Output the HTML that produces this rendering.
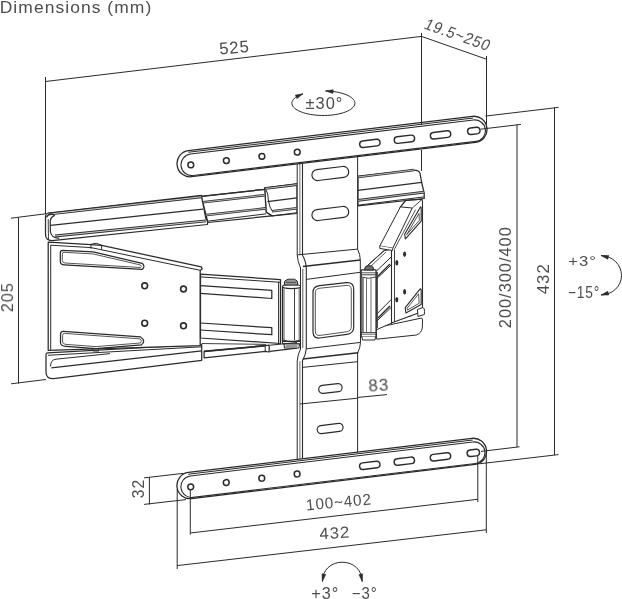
<!DOCTYPE html>
<html><head><meta charset="utf-8"><style>
html,body{margin:0;padding:0;background:#fff;overflow:hidden}
svg{display:block}
text{font-family:"Liberation Sans",sans-serif;fill:#4d4d4d}
.tx{will-change:transform}
</style></head><body>
<svg width="622" height="599" viewBox="0 0 622 599">
<rect width="622" height="599" fill="#fff"/>
<path d="M358,176.3 L413.4,170 Q419.5,170 420,173.4 L421.7,182.5 L424.2,193.4 L424.2,198.5 L358,205.9 Z" stroke="#2b2b2b" stroke-width="1.25" fill="#fff" stroke-linejoin="round" />
<path d="M358.0,177.0 L414.0,170.0" stroke="#2b2b2b" stroke-width="2.6" fill="none" stroke-linejoin="round" />
<path d="M358.0,177.0 L414.0,170.0" stroke="#fff" stroke-width="0.8" fill="none" opacity="0.85"/>
<path d="M358.0,190.3 L421.7,182.3" stroke="#2b2b2b" stroke-width="1.25" fill="none" stroke-linejoin="round" />
<path d="M358.0,200.4 L424.2,192.1" stroke="#2b2b2b" stroke-width="2.6" fill="none" stroke-linejoin="round" />
<path d="M358.0,200.4 L424.2,192.1" stroke="#fff" stroke-width="0.8" fill="none" opacity="0.85"/>
<path d="M358.0,205.2 L424.2,196.9" stroke="#2b2b2b" stroke-width="1.0" fill="none" stroke-linejoin="round" />
<path d="M264.7,187.9 L297,183.9 L297,213.5 L272,215.9 L266.1,212.2 Z" stroke="#2b2b2b" stroke-width="1.25" fill="#fff" stroke-linejoin="round" />
<path d="M265.6,188.5 L297.0,184.6" stroke="#2b2b2b" stroke-width="2.6" fill="none" stroke-linejoin="round" />
<path d="M265.6,188.5 L297.0,184.6" stroke="#fff" stroke-width="0.8" fill="none" opacity="0.85"/>
<path d="M267.4,201.6 L297.0,197.9" stroke="#2b2b2b" stroke-width="1.25" fill="none" stroke-linejoin="round" />
<path d="M272.0,211.3 L297.0,208.2" stroke="#2b2b2b" stroke-width="2.6" fill="none" stroke-linejoin="round" />
<path d="M272.0,211.3 L297.0,208.2" stroke="#fff" stroke-width="0.8" fill="none" opacity="0.85"/>
<path d="M272.0,215.9 L297.0,212.7" stroke="#2b2b2b" stroke-width="1.0" fill="none" stroke-linejoin="round" />
<path d="M266,190 Q268.3,193 268.3,200 Q269.5,208 272.5,211.5" stroke="#2b2b2b" stroke-width="1.0" fill="none" stroke-linejoin="round" />
<path d="M201.3,196.3 L264.7,189.3 L264.7,187.9 L266.1,212.2 L272,215.9 L207.5,222.5 L207.5,220.9 Z" stroke="#2b2b2b" stroke-width="1.25" fill="#fff" stroke-linejoin="round" />
<path d="M201.3,196.3 L264.7,189.3" stroke="#2b2b2b" stroke-width="1.25" fill="none" stroke-linejoin="round" />
<path d="M202.9,202.3 L264.7,195.2" stroke="#2b2b2b" stroke-width="2.6" fill="none" stroke-linejoin="round" />
<path d="M202.9,202.3 L264.7,195.2" stroke="#fff" stroke-width="0.8" fill="none" opacity="0.85"/>
<path d="M204.5,215.3 L265.5,208.4" stroke="#2b2b2b" stroke-width="2.6" fill="none" stroke-linejoin="round" />
<path d="M204.5,215.3 L265.5,208.4" stroke="#fff" stroke-width="0.8" fill="none" opacity="0.85"/>
<path d="M207.5,221.2 L266.1,213.8" stroke="#2b2b2b" stroke-width="1.0" fill="none" stroke-linejoin="round" />
<path d="M48.5,213.0 L201.3,195.3 L205.8,218.4 L207.5,221 L207.5,224.5 L52,240.6 Q45.5,240.8 45.5,234 L45.5,217 Q45.5,213.4 48.5,213.0 Z" stroke="#2b2b2b" stroke-width="1.25" fill="#fff" stroke-linejoin="round" />
<path d="M48.0,214.2 L201.3,196.8" stroke="#2b2b2b" stroke-width="2.8" fill="none" stroke-linejoin="round" />
<path d="M48.0,214.2 L201.3,196.8" stroke="#fff" stroke-width="0.9" fill="none" opacity="0.85"/>
<path d="M50.5,225.4 L203.0,209.2" stroke="#2b2b2b" stroke-width="1.25" fill="none" stroke-linejoin="round" />
<path d="M55.0,236.0 L206.0,220.9" stroke="#2b2b2b" stroke-width="2.8" fill="none" stroke-linejoin="round" />
<path d="M55.0,236.0 L206.0,220.9" stroke="#fff" stroke-width="0.9" fill="none" opacity="0.85"/>
<path d="M46.5,217.5 Q47.5,214.2 50.9,213.9 Q53.3,213.9 54.4,215.6 Q50.6,216.8 50.2,221.5 L50.4,231.5 Q51,237.6 59.2,238.4" stroke="#2b2b2b" stroke-width="1.2" fill="none" stroke-linejoin="round" />
<path d="M48.2,219 L48.5,240" stroke="#2b2b2b" stroke-width="0.9" fill="none" stroke-linejoin="round" />
<path d="M205.8,218.4 L207.5,221.0 L207.5,224.5" stroke="#2b2b2b" stroke-width="1.0" fill="none" stroke-linejoin="round" />
<path d="M270.0,351.4 L297.0,348.2" stroke="#2b2b2b" stroke-width="1.25" fill="none" stroke-linejoin="round" />
<path d="M270.0,345.2 L297.0,342.5" stroke="#2b2b2b" stroke-width="1.0" fill="none" stroke-linejoin="round" />
<path d="M204.1,351.4 L265.2,345.7 L269.2,345.2 L269.2,352 L265.2,351.4 L204.1,357.8 Z" stroke="#2b2b2b" stroke-width="1.25" fill="#fff" stroke-linejoin="round" />
<path d="M204.1,351.4 L265.2,345.7" stroke="#2b2b2b" stroke-width="1.8" fill="none" stroke-linejoin="round" />
<path d="M265.2,345.7 L265.2,351.4" stroke="#2b2b2b" stroke-width="1.0" fill="none" stroke-linejoin="round" />
<path d="M201.7,343.5 L266.0,344.4" stroke="#2b2b2b" stroke-width="0.9" fill="none" stroke-linejoin="round" />
<path d="M47.5,352.8 L201.7,344.5 L201.7,360.3 L53.7,378.7 Q46,379 46,372 L46,354.5 Q46,352.9 47.5,352.8 Z" stroke="#2b2b2b" stroke-width="1.25" fill="#fff" stroke-linejoin="round" />
<path d="M48.0,355.3 L201.7,346.8" stroke="#2b2b2b" stroke-width="1.0" fill="none" stroke-linejoin="round" />
<path d="M50.5,366.5 Q50.5,359.8 56,359.2 L110,353.6" stroke="#2b2b2b" stroke-width="1.0" fill="none" stroke-linejoin="round" />
<path d="M51.3,367.8 L201.7,350.9" stroke="#2b2b2b" stroke-width="1.25" fill="none" stroke-linejoin="round" />
<path d="M48.2,242.2 L91,244.6 L101.6,245.4 L201.3,266.8 L202.2,268.8 L200.2,270.5 L200.2,345.6 L48.2,350.4 Z" stroke="#2b2b2b" stroke-width="1.25" fill="#fff" stroke-linejoin="round" />
<path d="M50.5,245.2 L91.0,247.6 L200.2,270.3" stroke="#2b2b2b" stroke-width="1.0" fill="none" stroke-linejoin="round" />
<path d="M50.7,245.2 L50.7,349.8" stroke="#2b2b2b" stroke-width="1.0" fill="none" stroke-linejoin="round" />
<path d="M91,244.6 L91,248.8 M101.6,245.4 L101.6,249.8" stroke="#2b2b2b" stroke-width="1.0" fill="none" stroke-linejoin="round" />
<path d="M91,244.3 Q96,241.8 101.6,245.2" stroke="#2b2b2b" stroke-width="1.0" fill="none" stroke-linejoin="round" />
<path d="M62.6,250.3 L93.2,251.9 L142.1,263.3 Q145.8,266.4 142.1,269.4 L64.2,264.9 Q60.3,264.6 60.3,261.5 L60.3,253 Q60.3,250.3 62.6,250.3 Z" stroke="#2b2b2b" stroke-width="1.25" fill="none" stroke-linejoin="round" />
<path d="M64,252.3 L93,253.9 L140.5,265 Q142.4,266.5 140.5,267.5 L65,263 Q62.3,262.8 62.3,260.5 L62.3,254.2 Q62.3,252.3 64,252.3 Z" stroke="#2b2b2b" stroke-width="0.8" fill="none" stroke-linejoin="round" />
<path d="M63.4,331.4 L140.5,336.9 Q146.5,341 141.3,344.9 L96.2,348.7 L65.7,346.4 Q61.1,346.1 60.5,343 L60.5,334.3 Q60.8,331.3 63.4,331.4 Z" stroke="#2b2b2b" stroke-width="1.25" fill="none" stroke-linejoin="round" />
<path d="M64.5,333.4 L139.8,338.8 Q143,341 140.3,343 L96.2,346.6 L66,344.4 Q62.8,344.2 62.6,342 L62.6,335.2 Q62.8,333.3 64.5,333.4 Z" stroke="#2b2b2b" stroke-width="0.8" fill="none" stroke-linejoin="round" />
<path d="M92.5,348.4 L92.7,351 L98.5,351.2 L98.7,348.8" stroke="#2b2b2b" stroke-width="0.9" fill="none" stroke-linejoin="round" />
<circle cx="144.7" cy="285.8" r="2.9" fill="none" stroke="#2b2b2b" stroke-width="1.6"/>
<circle cx="183.5" cy="289" r="2.9" fill="none" stroke="#2b2b2b" stroke-width="1.6"/>
<circle cx="144.7" cy="323.2" r="2.9" fill="none" stroke="#2b2b2b" stroke-width="1.6"/>
<circle cx="183.5" cy="325.8" r="2.9" fill="none" stroke="#2b2b2b" stroke-width="1.6"/>
<path d="M200.5,274.2 L280.5,279.6 L280.5,343.5 L200.5,338 Z" stroke="#2b2b2b" stroke-width="1.25" fill="#fff" stroke-linejoin="round" />
<path d="M200.5,276.9 L280.5,282.3" stroke="#2b2b2b" stroke-width="1.0" fill="none" stroke-linejoin="round" />
<path d="M200.5,285.6 L271.8,290.3 L271.8,298.5 L200.5,293.3" stroke="#2b2b2b" stroke-width="1.25" fill="none" stroke-linejoin="round" />
<path d="M200.5,323 L271.8,327.7 L271.8,334.7 L200.5,330" stroke="#2b2b2b" stroke-width="1.25" fill="none" stroke-linejoin="round" />
<path d="M278.6,281.8 L278.6,343.5" stroke="#2b2b2b" stroke-width="1.0" fill="none" stroke-linejoin="round" />
<path d="M282.5,286.5 L301,286.5 L301,341.5 L282.5,341.5 Z" stroke="#2b2b2b" stroke-width="1.2" fill="#fff" stroke-linejoin="round" />
<path d="M284.0,288.5 L284.0,340.0" stroke="#2b2b2b" stroke-width="0.8" fill="none" stroke-linejoin="round" />
<path d="M294.5,288.5 L294.5,340.0" stroke="#2b2b2b" stroke-width="0.9" fill="none" stroke-linejoin="round" />
<path d="M299.2,288.5 L299.2,340.0" stroke="#2b2b2b" stroke-width="0.8" fill="none" stroke-linejoin="round" />
<ellipse cx="291.7" cy="286.6" rx="9.3" ry="2" fill="#fff" stroke="#2b2b2b" stroke-width="1.2"/>
<path d="M284.2,285 L284.8,281 L288,279.2 L294.5,279.2 L297.2,281 L297.8,285 Z" stroke="#2b2b2b" stroke-width="1.0" fill="#9a9a9a" stroke-linejoin="round" />
<path d="M286.0,282.4 L296.0,282.4" stroke="#2b2b2b" stroke-width="0.7" fill="none" stroke-linejoin="round" />
<path d="M282.5,340 Q291.7,342.5 301,340" fill="none" stroke="#2b2b2b" stroke-width="1.1"/>
<path d="M282.5,341.5 L282.5,343.8 L301,343.8 L301,341.5" stroke="#2b2b2b" stroke-width="1.0" fill="none" stroke-linejoin="round" />
<path d="M284,344 L284.5,348 L299,348 L299.5,344 Z" stroke="#2b2b2b" stroke-width="1.1" fill="#fff" stroke-linejoin="round" />
<rect x="285.5" y="345" width="12" height="2" fill="#999"/>
<path d="M297.2,150 L357.6,150 L357.6,249.2 Q360.2,254 360.3,260 L360.5,342.5 Q360.2,348 357.6,353 L357.6,470 L297.2,470 L297.2,361 Q297.6,355 300.5,349 L300.5,268 Q297.6,261 297.2,255 Z" stroke="#2b2b2b" stroke-width="1.0" fill="#fff" stroke-linejoin="round" />
<path d="M302.5,150 L302.5,255.5 Q305.8,260.5 306.3,268 L306.3,348.5 Q305.8,355 302.5,360.5 L302.5,470" stroke="#2b2b2b" stroke-width="1.1" fill="none" stroke-linejoin="round" />
<path d="M299.9,150 L299.9,255" stroke="#2b2b2b" stroke-width="0.7" fill="none" stroke-linejoin="round" />
<path d="M299.9,361 L299.9,470" stroke="#2b2b2b" stroke-width="0.7" fill="none" stroke-linejoin="round" />
<path d="M302.8,269 L302.8,348" stroke="#2b2b2b" stroke-width="0.8" fill="none" stroke-linejoin="round" />
<path d="M297.5,254.9 L357.6,249.1" stroke="#2b2b2b" stroke-width="1.0" fill="none" stroke-linejoin="round" />
<path d="M302.9,266.5 L360.2,260.1" stroke="#2b2b2b" stroke-width="1.5" fill="none" stroke-linejoin="round" />
<path d="M306.3,279.4 L360.3,272.3" stroke="#2b2b2b" stroke-width="1.0" fill="none" stroke-linejoin="round" />
<path d="M306.3,348.8 L360.5,342.4" stroke="#2b2b2b" stroke-width="1.0" fill="none" stroke-linejoin="round" />
<path d="M302.8,359.1 L358.2,352.7" stroke="#2b2b2b" stroke-width="1.5" fill="none" stroke-linejoin="round" />
<path d="M302.5,367.4 L357.6,361.7" stroke="#2b2b2b" stroke-width="1.0" fill="none" stroke-linejoin="round" />
<path d="M300.0,404.0 L357.6,398.2" stroke="#2b2b2b" stroke-width="1.0" fill="none" stroke-linejoin="round" />
<path d="M319.5,285.6 L346.5,282.7 Q353.7,282 353.7,289.5 L353.7,327 Q353.7,333.5 347,334.3 L319.5,338 Q313,338.8 313,331.5 L313,292.5 Q313,286.3 319.5,285.6 Z" stroke="#2b2b2b" stroke-width="1.2" fill="none" stroke-linejoin="round" />
<path d="M320,288.2 L346.5,285.4 Q351.3,284.9 351.3,290 L351.3,326.5 Q351.3,331.2 346.5,331.8 L320,335.4 Q315.3,336 315.3,331 L315.3,293 Q315.3,288.7 320,288.2 Z" stroke="#2b2b2b" stroke-width="0.8" fill="none" stroke-linejoin="round" />
<rect x="311.80" y="168.00" width="37" height="11" rx="5.5" transform="rotate(-6.8 330.3 173.5)" fill="none" stroke="#2b2b2b" stroke-width="1.2"/>
<rect x="311.80" y="208.00" width="37" height="11" rx="5.5" transform="rotate(-6.8 330.3 213.5)" fill="none" stroke="#2b2b2b" stroke-width="1.2"/>
<rect x="318.65" y="384.50" width="23.5" height="8" rx="4" transform="rotate(-6.8 330.4 388.5)" fill="none" stroke="#2b2b2b" stroke-width="1.2"/>
<rect x="317.10" y="424.50" width="26" height="8" rx="4" transform="rotate(-6.8 330.1 428.5)" fill="none" stroke="#2b2b2b" stroke-width="1.2"/>
<path d="M376.1,327.7 L421.3,318.1 Q422.5,318 422.5,320 L422.3,328 Q421.5,333 416.5,335 L376.7,339.2 Z" stroke="#2b2b2b" stroke-width="1.0" fill="#fff" stroke-linejoin="round" />
<path d="M379.1,323.5 L411.7,315.7" stroke="#2b2b2b" stroke-width="0.8" fill="none" stroke-linejoin="round" />
<path d="M365,268 L384,250.7 L392,249 L392,323 L379,328.6 L376.3,330 L376.3,272 Z" stroke="#2b2b2b" stroke-width="1.0" fill="#fff" stroke-linejoin="round" />
<path d="M365.0,267.7 L384.0,250.7" stroke="#2b2b2b" stroke-width="1.0" fill="none" stroke-linejoin="round" />
<path d="M370.0,267.0 L386.0,252.0" stroke="#2b2b2b" stroke-width="0.8" fill="none" stroke-linejoin="round" />
<path d="M376.3,271.2 L391.2,257.0" stroke="#2b2b2b" stroke-width="1.0" fill="none" stroke-linejoin="round" />
<path d="M376.3,279.0 L391.2,264.9" stroke="#2b2b2b" stroke-width="1.0" fill="none" stroke-linejoin="round" />
<path d="M377.5,272.0 L377.5,328.0" stroke="#2b2b2b" stroke-width="0.8" fill="none" stroke-linejoin="round" />
<path d="M376.3,314.5 L391.2,299.6" stroke="#2b2b2b" stroke-width="1.0" fill="none" stroke-linejoin="round" />
<path d="M376.3,321.6 L391.2,307.4" stroke="#2b2b2b" stroke-width="1.0" fill="none" stroke-linejoin="round" />
<path d="M378.0,318.0 L390.0,306.0" stroke="#2b2b2b" stroke-width="1.4" fill="none" stroke-linejoin="round" />
<path d="M378.0,276.0 L390.0,264.0" stroke="#2b2b2b" stroke-width="1.2" fill="none" stroke-linejoin="round" />
<path d="M361.2,269.8 L376,269.8 L376,337 L361.2,337 Z" stroke="#2b2b2b" stroke-width="1.2" fill="#fff" stroke-linejoin="round" />
<rect x="361.6" y="278" width="2.2" height="54" fill="#7a7a7a"/>
<path d="M366.5,278.5 L366.5,332.0" stroke="#2b2b2b" stroke-width="0.7" fill="none" stroke-linejoin="round" />
<path d="M371.0,278.5 L371.0,332.0" stroke="#2b2b2b" stroke-width="0.7" fill="none" stroke-linejoin="round" />
<path d="M361.4,272.8 L375.8,272.8" stroke="#2b2b2b" stroke-width="0.8" fill="none" stroke-linejoin="round" />
<path d="M361.4,274.8 L375.8,274.8" stroke="#2b2b2b" stroke-width="0.9" fill="none" stroke-linejoin="round" />
<path d="M361.5,277 Q368.6,279.6 375.8,277" fill="none" stroke="#2b2b2b" stroke-width="0.9"/>
<path d="M364.6,270 L365,267.3 L367.3,265.8 L371.2,265.8 L373.2,267.3 L373.6,270 Z" stroke="#2b2b2b" stroke-width="1.0" fill="#707070" stroke-linejoin="round" />
<path d="M361.4,332.6 L375.8,332.6" stroke="#2b2b2b" stroke-width="0.9" fill="none" stroke-linejoin="round" />
<path d="M361.4,334.2 L375.8,334.2" stroke="#2b2b2b" stroke-width="0.7" fill="none" stroke-linejoin="round" />
<path d="M362,337 L362.5,340 L375,340 L375.5,337" stroke="#2b2b2b" stroke-width="1.0" fill="#fff" stroke-linejoin="round" />
<path d="M391.5,249 L400.4,206.9 L405.8,200.4 L422.1,199.3 L422.5,202 L422.5,311.6 L393.3,322.3 L391.5,323 Z" stroke="#2b2b2b" stroke-width="1.1" fill="#fff" stroke-linejoin="round" />
<path d="M394.5,249.5 L394.5,322.0" stroke="#2b2b2b" stroke-width="0.9" fill="none" stroke-linejoin="round" />
<path d="M400.4,206.9 L405.8,200.4 L422.1,199.3 L412.3,208" stroke="#2b2b2b" stroke-width="0.9" fill="none" stroke-linejoin="round" />
<path d="M379.8,246 L400.4,206.9 L412.3,208 L392.8,248.2 Z" stroke="#2b2b2b" stroke-width="1.0" fill="#fff" stroke-linejoin="round" />
<path d="M379.8,246 L379.8,248.5 L392.5,250.5 L392.8,248.2" stroke="#2b2b2b" stroke-width="1.0" fill="#fff" stroke-linejoin="round" />
<path d="M415.6,209.6 L394.4,249.2" stroke="#2b2b2b" stroke-width="0.8" fill="none" stroke-linejoin="round" />
<path d="M404.7,234.3 L420.6,206.8 L421.2,207.5 L421.2,221.2 L405.4,238.8 Z" stroke="#2b2b2b" stroke-width="1.1" fill="none" stroke-linejoin="round" />
<path d="M406.7,234.7 L419.0,213.4 L419.3,220.5 L406.7,234.6 Z" stroke="#2b2b2b" stroke-width="0.8" fill="none" stroke-linejoin="round" />
<path d="M405.2,307.6 L420.2,288.8 L421.2,289.4 L421.2,304.4 L405.9,313.0 Z" stroke="#2b2b2b" stroke-width="1.1" fill="none" stroke-linejoin="round" />
<path d="M407.2,308.2 L418.6,293.8 L419.2,303.3 L407.4,310.0 Z" stroke="#2b2b2b" stroke-width="0.8" fill="none" stroke-linejoin="round" />
<ellipse cx="404.6" cy="254.2" rx="1.5" ry="2.7" fill="#2b2b2b"/>
<ellipse cx="396.8" cy="262.7" rx="1.5" ry="2.7" fill="#2b2b2b"/>
<ellipse cx="404.6" cy="291.8" rx="1.5" ry="2.7" fill="#2b2b2b"/>
<ellipse cx="396.8" cy="299.6" rx="1.5" ry="2.7" fill="#2b2b2b"/>
<path d="M417.4,309.5 L423,307.5 Q424.8,308.5 424.5,311.5 L424.3,314.5 L418,316.5 Z" stroke="#2b2b2b" stroke-width="1.0" fill="#fff" stroke-linejoin="round" />
<g transform="translate(190.8 164.9) rotate(-6.871)"><rect x="-13.6" y="-14.5" width="312.0" height="26.3" rx="13" fill="#fff" stroke="#2b2b2b" stroke-width="1.3"/><path d="M-1,-12.8 L286.0,-12.8" stroke="#2b2b2b" stroke-width="1.0"/><rect x="-9.8" y="-10.8" width="306.5" height="21.6" rx="10.8" fill="#fff" stroke="#2b2b2b" stroke-width="1.1"/><circle cx="0" cy="0" r="2.9" fill="none" stroke="#2b2b2b" stroke-width="1.5"/><circle cx="35.8" cy="0" r="2.9" fill="none" stroke="#2b2b2b" stroke-width="1.5"/><circle cx="71.6" cy="0" r="2.9" fill="none" stroke="#2b2b2b" stroke-width="1.5"/><circle cx="107.2" cy="0" r="2.9" fill="none" stroke="#2b2b2b" stroke-width="1.5"/><rect x="170.1" y="-3.2" width="20.5" height="6.6" rx="3.3" fill="none" stroke="#2b2b2b" stroke-width="1.4"/><rect x="204.9" y="-3.2" width="20.5" height="6.6" rx="3.3" fill="none" stroke="#2b2b2b" stroke-width="1.4"/><rect x="241.3" y="-3.2" width="20.5" height="6.6" rx="3.3" fill="none" stroke="#2b2b2b" stroke-width="1.4"/><rect x="278.8" y="-3.2" width="12.5" height="6.6" rx="3.3" fill="none" stroke="#2b2b2b" stroke-width="1.4"/></g>
<g transform="translate(190.7 486.8) rotate(-6.860)"><rect x="-13.6" y="-14.5" width="311.6" height="26.3" rx="13" fill="#fff" stroke="#2b2b2b" stroke-width="1.3"/><path d="M-1,-12.8 L285.6,-12.8" stroke="#2b2b2b" stroke-width="1.0"/><rect x="-9.8" y="-10.8" width="306.1" height="21.6" rx="10.8" fill="#fff" stroke="#2b2b2b" stroke-width="1.1"/><circle cx="0" cy="0" r="2.9" fill="none" stroke="#2b2b2b" stroke-width="1.5"/><circle cx="35.8" cy="0" r="2.9" fill="none" stroke="#2b2b2b" stroke-width="1.5"/><circle cx="71.6" cy="0" r="2.9" fill="none" stroke="#2b2b2b" stroke-width="1.5"/><circle cx="107.2" cy="0" r="2.9" fill="none" stroke="#2b2b2b" stroke-width="1.5"/><rect x="170.1" y="-3.2" width="20.5" height="6.6" rx="3.3" fill="none" stroke="#2b2b2b" stroke-width="1.4"/><rect x="204.9" y="-3.2" width="20.5" height="6.6" rx="3.3" fill="none" stroke="#2b2b2b" stroke-width="1.4"/><rect x="241.3" y="-3.2" width="20.5" height="6.6" rx="3.3" fill="none" stroke="#2b2b2b" stroke-width="1.4"/><rect x="278.4" y="-3.2" width="12.5" height="6.6" rx="3.3" fill="none" stroke="#2b2b2b" stroke-width="1.4"/></g>
<line x1="45.5" y1="77" x2="45.5" y2="214" stroke="#2b2b2b" stroke-width="1.0"/>
<line x1="45.5" y1="81.5" x2="421.5" y2="36.4" stroke="#2b2b2b" stroke-width="1.0"/>
<line x1="421.5" y1="33" x2="421.5" y2="125" stroke="#2b2b2b" stroke-width="1.0"/>
<line x1="421.5" y1="150" x2="421.5" y2="171" stroke="#2b2b2b" stroke-width="1.0"/>
<line x1="421.5" y1="36.4" x2="486.5" y2="59.2" stroke="#2b2b2b" stroke-width="1.0"/>
<line x1="486.5" y1="56" x2="486.5" y2="128" stroke="#2b2b2b" stroke-width="1.0"/>
<line x1="485.5" y1="116.1" x2="558.5" y2="107.4" stroke="#2b2b2b" stroke-width="1.0"/>
<line x1="554.5" y1="107.4" x2="554.5" y2="455" stroke="#2b2b2b" stroke-width="1.0"/>
<line x1="480.5" y1="129.2" x2="521" y2="124.4" stroke="#2b2b2b" stroke-width="1.0"/>
<line x1="517" y1="124.4" x2="517" y2="447" stroke="#2b2b2b" stroke-width="1.0"/>
<line x1="481" y1="451.4" x2="519.5" y2="446.8" stroke="#2b2b2b" stroke-width="1.0"/>
<line x1="479.5" y1="463.8" x2="558.5" y2="454.6" stroke="#2b2b2b" stroke-width="1.0"/>
<line x1="18.5" y1="217.5" x2="18.5" y2="383.5" stroke="#2b2b2b" stroke-width="1.0"/>
<line x1="11" y1="218.2" x2="45.5" y2="213.8" stroke="#2b2b2b" stroke-width="1.0"/>
<line x1="11" y1="383.8" x2="46" y2="379.5" stroke="#2b2b2b" stroke-width="1.0"/>
<line x1="149.4" y1="477" x2="149.4" y2="504.5" stroke="#2b2b2b" stroke-width="1.0"/>
<line x1="144" y1="477.9" x2="183" y2="473.4" stroke="#2b2b2b" stroke-width="1.0"/>
<line x1="144" y1="504.4" x2="186" y2="499.6" stroke="#2b2b2b" stroke-width="1.0"/>
<line x1="190.3" y1="489.8" x2="190.3" y2="534.5" stroke="#2b2b2b" stroke-width="1.0"/>
<line x1="477.8" y1="456" x2="477.8" y2="502" stroke="#2b2b2b" stroke-width="1.0"/>
<line x1="190.3" y1="533" x2="477.8" y2="499.3" stroke="#2b2b2b" stroke-width="1.0"/>
<line x1="177.2" y1="489" x2="177.2" y2="569" stroke="#2b2b2b" stroke-width="1.0"/>
<line x1="486.3" y1="452" x2="486.3" y2="533" stroke="#2b2b2b" stroke-width="1.0"/>
<line x1="177.2" y1="565.6" x2="486.3" y2="529.8" stroke="#2b2b2b" stroke-width="1.0"/>
<line x1="358" y1="397.4" x2="387" y2="394.6" stroke="#2b2b2b" stroke-width="1.0"/>
<path d="M303.00,93.83 L300.89,94.60 L298.96,95.44 L297.24,96.35 L295.74,97.31 L294.48,98.33 L293.45,99.38 L292.68,100.47 L292.17,101.58 L291.93,102.71 L291.94,103.84 L292.22,104.96 L292.77,106.07 L293.57,107.15 L294.63,108.20 L295.92,109.21 L297.45,110.17 L299.20,111.07 L301.15,111.91 L303.28,112.67 L305.59,113.35 L308.05,113.94 L310.64,114.44 L313.33,114.85 L316.11,115.17 L318.95,115.38 L321.83,115.48 L324.72,115.49 L327.60,115.39 L330.44,115.19 L333.23,114.89 L335.93,114.49 L338.53,113.99 L341.00,113.40 L343.32,112.73 L345.47,111.98 L347.44,111.15 L349.20,110.25 L350.75,109.30 L352.07,108.30 L353.14,107.25 L353.97,106.17 L354.54,105.06 L354.84,103.94 L354.88,102.81 L354.66,101.68 L354.17,100.57 L353.42,99.48 L352.42,98.42 L351.18,97.40 L349.70,96.43 L348.00,95.52 L346.09,94.67 L343.99,93.89 L341.72,93.19 L339.30,92.58 L336.74,92.06 L334.06,91.63 L331.30,91.29 L328.47,91.06 L325.60,90.93" stroke="#2b2b2b" stroke-width="1.0" fill="none" stroke-linejoin="round" />
<path d="M303.0,93.8 L296.9,98.6 L295.4,95.1 Z" stroke="#2b2b2b" stroke-width="0.6" fill="#2b2b2b" stroke-linejoin="round" />
<path d="M325.6,90.9 L333.2,89.7 L332.9,93.4 Z" stroke="#2b2b2b" stroke-width="0.6" fill="#2b2b2b" stroke-linejoin="round" />
<path d="M601,255.5 C613,256 621.5,265 621.5,275.5 C621.5,286 613,294.5 601,295" stroke="#2b2b2b" stroke-width="1.0" fill="none" stroke-linejoin="round" />
<path d="M601.0,255.5 L608.7,255.5 L607.8,259.2 Z" stroke="#2b2b2b" stroke-width="0.6" fill="#2b2b2b" stroke-linejoin="round" />
<path d="M601.0,295.0 L607.8,291.3 L608.7,295.0 Z" stroke="#2b2b2b" stroke-width="0.6" fill="#2b2b2b" stroke-linejoin="round" />
<path d="M322.4,581.5 C322.4,570 331,562.2 342.3,562.2 C353.5,562.2 362.2,570 362.2,581.5" stroke="#2b2b2b" stroke-width="1.0" fill="none" stroke-linejoin="round" />
<path d="M322.4,581.5 L322.0,573.8 L325.7,574.5 Z" stroke="#2b2b2b" stroke-width="0.6" fill="#2b2b2b" stroke-linejoin="round" />
<path d="M362.2,581.5 L358.9,574.5 L362.6,573.8 Z" stroke="#2b2b2b" stroke-width="0.6" fill="#2b2b2b" stroke-linejoin="round" />
<g class="tx"><text x="0" y="0" font-size="16.00" letter-spacing="0.96" transform="translate(-0.31 12.70) scale(1.0927 1)">Dimensions (mm)</text>
<text x="0" y="0" font-size="17.00" letter-spacing="1.02" transform="translate(219.67 54.47) rotate(-4.5)  scale(0.9752 1)">525</text>
<text x="0" y="0" font-size="16.00" letter-spacing="0.96" transform="translate(422.96 28.23) rotate(19.5) skewX(-8) scale(0.9195 1)">19.5~250</text>
<text x="0" y="0" font-size="16.71" letter-spacing="1.00" transform="translate(305.59 109.30) scale(0.9828 1)">±30°</text>
<text x="0" y="0" font-size="16.67" letter-spacing="1.00" transform="translate(511.10 328.22) rotate(-90) scale(0.9847 1)">200/300/400</text>
<text x="0" y="0" font-size="16.43" letter-spacing="0.99" transform="translate(548.50 294.22) rotate(-90) scale(1.0192 1)">432</text>
<text x="0" y="0" font-size="15.43" letter-spacing="0.93" transform="translate(568.17 265.60) scale(1.0781 1)">+3°</text>
<text x="0" y="0" font-size="16.14" letter-spacing="0.97" transform="translate(567.91 297.60) scale(0.8537 1)">−15°</text>
<text x="0" y="0" font-size="16.71" letter-spacing="1.00" transform="translate(13.00 312.21) rotate(-90) scale(0.9671 1)">205</text>
<text x="0" y="0" font-size="16.71" letter-spacing="1.00" transform="translate(368.75 391.65) rotate(-3.5)  scale(1.0146 1)">83</text>
<text x="0" y="0" font-size="17.29" letter-spacing="1.04" transform="translate(144.40 498.18) rotate(-90) scale(0.9064 1)">32</text>
<text x="0" y="0" font-size="15.71" letter-spacing="0.94" transform="translate(306.56 510.41) rotate(-5.3)  scale(0.9683 1)">100~402</text>
<text x="0" y="0" font-size="16.14" letter-spacing="0.97" transform="translate(319.68 539.32) rotate(-3.4)  scale(1.0373 1)">432</text>
<text x="0" y="0" font-size="16.29" letter-spacing="0.98" transform="translate(311.29 598.50) scale(0.9976 1)">+3°</text>
<text x="0" y="0" font-size="16.29" letter-spacing="0.98" transform="translate(351.85 598.50) scale(0.9181 1)">−3°</text></g>
</svg>
</body></html>
